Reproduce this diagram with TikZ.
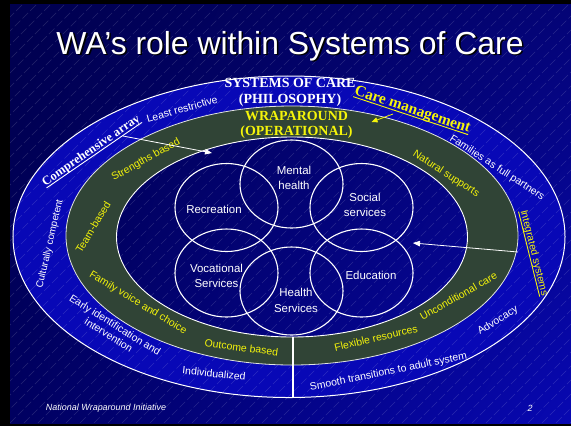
\documentclass[tikz,border=0pt]{standalone}
\usepackage{fontspec}
\setmainfont{Liberation Serif}
\newfontfamily\arialf{Liberation Sans}
\usetikzlibrary{shapes.geometric,arrows.meta,shadings}
\definecolor{bgUL}{RGB}{0,0,78}
\definecolor{bgUR}{RGB}{4,4,118}
\definecolor{bgLL}{RGB}{0,0,96}
\definecolor{bgLR}{RGB}{8,8,178}
\definecolor{ringblue}{RGB}{8,8,182}
\definecolor{bandgreen}{RGB}{48,68,54}
\definecolor{wyellow}{RGB}{245,245,10}
\newcommand\myul[1]{\setbox0\hbox{#1}\makebox[0pt][l]{\raisebox{-2.6pt}{\rule{\wd0}{0.9pt}}}\box0}
\newcommand\shadowed[1]{\makebox[0pt][l]{\kern1.6pt\raisebox{-1.6pt}{\color{black}#1}}#1}
\tikzset{
  wl/.style={text=white, inner sep=0pt, align=center, font=\arialf\fontsize{10.5}{12.5}\selectfont},
  yl/.style={wl, text=wyellow},
  inlbl/.style={text=white, inner sep=0pt, align=center, font=\arialf\fontsize{11.5}{15.5}\selectfont},
  serifhd/.style={inner sep=0pt, align=center, font=\bfseries\fontsize{14}{15.5}\selectfont},
  circ/.style={ellipse, draw=white, line width=1.1bp, minimum width=103bp, minimum height=88bp, inner sep=0pt},
  hatch/.style={white, opacity=0.14, line width=0.5bp, dash pattern=on 8bp off 3bp},
  wconn/.style={white, line width=0.8bp, -{Triangle[length=7bp,width=5.5bp]}},
  yconn/.style={wyellow, line width=0.8bp, -{Triangle[length=6bp,width=5bp]}},
  foot/.style={text=white, inner sep=0pt, font=\arialf\itshape\fontsize{9}{10}\selectfont}
}
\begin{document}
\begin{tikzpicture}[x=1bp,y=-1bp]
\useasboundingbox (0,0) rectangle (571,426);
\fill[black] (0,0) rectangle (571,426);
\shade[upper left=bgUL, upper right=bgUR, lower left=bgLL, lower right=bgLR] (10,4) rectangle (571,423);
% outer ring
\fill[ringblue, even odd rule] (289,236.75) ellipse [x radius=276bp, y radius=160.75bp]
  (292,235.5) ellipse [x radius=226bp, y radius=129.5bp];
% hatch texture
\begin{scope}
\clip (10,4) rectangle (571,423);
\foreach \i in {-410,-396,...,571} \draw[hatch] (\i,423) -- ++(419,-419);
\end{scope}
% green band
\fill[bandgreen, even odd rule] (292,235.5) ellipse [x radius=226bp, y radius=129.5bp]
  (292,237) ellipse [x radius=175.5bp, y radius=100bp];
\draw[white, line width=1bp] (289,236.75) ellipse [x radius=276bp, y radius=160.75bp];
\draw[white!85!bandgreen, line width=0.8bp] (292,235.5) ellipse [x radius=226bp, y radius=129.5bp];
\draw[white, line width=0.9bp] (292,237) ellipse [x radius=175.5bp, y radius=100bp];
% vertical divider
\coordinate (vTop) at (293,337);
\coordinate (vBot) at (293,397.5);
\draw[white, line width=1.4bp] (vTop) -- (vBot);
% title
\node[text=white, anchor=base, font=\arialf\fontsize{32}{32}\selectfont] (title) at (290,54) {\shadowed{WA’s role within Systems of Care}};
% six service ellipses
\node[circ] (cMH) at (291.5,184) {};
\node[circ] (cRec) at (226.5,207.5) {};
\node[circ] (cSoc) at (361.5,207.5) {};
\node[circ] (cVoc) at (226.5,273) {};
\node[circ] (cEdu) at (361.5,273) {};
\node[circ] (cHS) at (291.5,291) {};
\node[inlbl] (tMH) at (294,178) {Mental\\health};
\node[inlbl] (tRec) at (214,209.5) {Recreation};
\node[inlbl] (tSoc) at (365,205) {Social\\services};
\node[inlbl] (tVoc) at (216.5,276) {Vocational\\Services};
\node[inlbl] (tEdu) at (371,275.5) {Education};
\node[inlbl] (tHS) at (296,300.5) {Health\\Services};
% headings
\node[serifhd, text=white] (soc) at (290,92.5) {SYSTEMS OF CARE\\(PHILOSOPHY)};
\node[serifhd, text=wyellow] (wa) at (296.5,125) {WRAPAROUND\\(OPERATIONAL)};
% underlined headings
\node[inner sep=0pt, text=wyellow, anchor=base, rotate=-18.3, font=\bfseries\fontsize{15.5}{16}\selectfont] (cm) at (411.3,113.6) {\myul{Care management}};
\node[inner sep=0pt, text=white, anchor=base, rotate=34.5, font=\bfseries\fontsize{12.5}{13}\selectfont] (ca) at (93,153.4) {\myul{Comprehensive array}};
\node[inner sep=0pt, text=wyellow, anchor=base, rotate=-76, font=\arialf\fontsize{10.4}{12}\selectfont] (is) at (531.2,253.6) {\myul{Integrated systems}};
% ring labels
\node[wl, rotate=16] (lr) at (182,109) {Least restrictive};
\node[wl, rotate=-33] (fp) at (497,168) {Families as full partners};
\node[yl, rotate=-33] (ns) at (446,174) {Natural supports};
\node[yl, rotate=29] (sb) at (146,160) {Strengths based};
\node[wl, rotate=77, font=\arialf\fontsize{10}{12}\selectfont] (cc) at (50,244) {Culturally competent};
\node[yl, rotate=59] (tb) at (93,227) {Team-based};
\node[yl, rotate=-31] (fv) at (138,303) {Family voice and choice};
\node[wl, rotate=-32, font=\arialf\fontsize{10.5}{12}\selectfont] (ei) at (112,330) {Early identification and\\intervention};
\node[wl, rotate=-6] (ind) at (214,373.5) {Individualized};
\node[yl, rotate=-7] (ob) at (241.5,347.5) {Outcome based};
\node[yl, rotate=13] (fr) at (376,338) {Flexible resources};
\node[yl, rotate=29.5] (uc) at (458.5,296) {Unconditional care};
\node[wl, rotate=32] (adv) at (498,320.5) {Advocacy};
\node[wl, rotate=11.5] (st) at (388.5,372) {Smooth transitions to adult system};
% footer
\node[foot] (nwi) at (106,408) {National Wraparound Initiative};
\node[foot] (pg) at (530,408) {2};
% connectors
\coordinate (caS) at (123,136);
\coordinate (caE) at (212,153);
\draw[wconn] (caS) -- (caE);
\coordinate (isS) at (518,252);
\coordinate (isE) at (413,243);
\draw[wconn] (isS) -- (isE);
\coordinate (cmS) at (393,114);
\coordinate (cmE) at (371.5,122);
\draw[yconn] (cmS) -- (cmE);
\end{tikzpicture}
\end{document}
